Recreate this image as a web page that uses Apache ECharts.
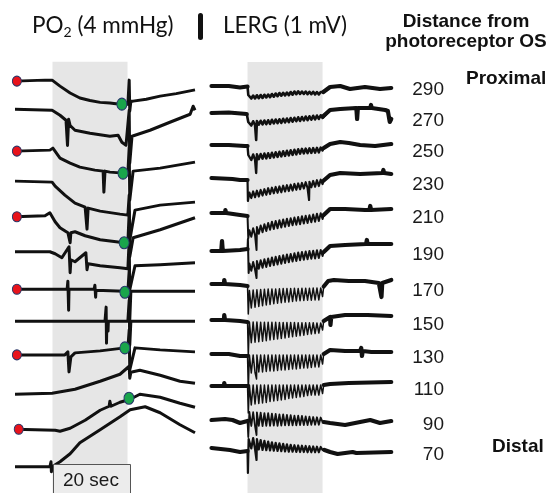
<!DOCTYPE html>
<html><head><meta charset="utf-8">
<script src="https://cdn.jsdelivr.net/npm/echarts@6/dist/echarts.min.js"></script>
<style>html,body{margin:0;padding:0;background:#fff}#c{width:550px;height:493px}</style>
</head><body><div id="c"></div>
<script>
// ---------- data ----------
const distances = ['290','270','250','230','210','190','170','150','130','110','90','70'];
const lightOn = 10, lightOff = 30; // seconds
// PO2 baselines (mmHg, stacked offsets) and traces (t [s], PO2 change [mmHg])
const po2Baseline = [65.9, 61.4, 54.7, 49.9, 44.2, 38.6, 32.6, 27.5, 22.1, 15.8, 10.2, 4.2];
const po2Traces = [
 [[0,0],[8,0.16],[9.9,0.16],[12,-0.8],[14.7,-1.9],[17.3,-2.7],[20,-3.1],[22.7,-3.4],[25.3,-3.5],[28,-3.7],[30.1,-3.7],[30.45,0.16],[30.6,-4.8],[30.9,-3.2],[31.5,-3.2],[35,-2.9],[38.7,-2.4],[43,-2.0],[48,-1.4]],
 [[0,0],[9.9,-0.16],[12,-0.96],[13.6,-1.76],[14.0,-5.8],[14.3,-1.6],[14.7,-2.6],[16,-3.36],[20,-3.84],[25.3,-4.32],[27.5,-4.16],[28.5,-5.28],[29.6,-5.76],[30.45,-0.16],[30.6,-8.64],[31.2,-4.32],[36,-3.36],[41.3,-2.08],[46.7,-0.8],[47.5,0.48],[48,-0.16]],
 [[0,0],[9.3,0.16],[10.1,0.48],[12,-1.12],[14.7,-1.92],[17.3,-2.56],[21.3,-3.04],[23.5,-3.2],[23.7,-6.56],[24,-3.2],[25.3,-3.36],[28.8,-3.52],[30.1,-3.52],[30.45,0.64],[30.6,-7.84],[31.5,-3.2],[38.7,-2.72],[48,-1.76]],
 [[0,0],[9.9,-0.16],[10.7,-0.8],[13.3,-2.24],[16,-3.52],[18.7,-4.16],[19.2,-7.68],[19.5,-4.32],[22.7,-4.8],[28,-5.28],[30.1,-5.44],[30.45,-2.24],[30.6,-9.44],[32,-4.64],[38.7,-3.84],[48,-3.36]],
 [[0,0],[8,0.16],[9.3,0.64],[10.7,-0.8],[12,-1.76],[14.1,-2.56],[14.7,-4.16],[14.9,-2.56],[16,-2.4],[18.7,-3.04],[22.7,-3.68],[29.1,-4.16],[30.1,-4.16],[30.45,0.8],[30.6,-6.4],[31.5,-3.36],[38.7,-2.08],[48,-0.16]],
 [[0,0],[9.3,0],[10.7,-0.32],[12.5,-0.96],[14.4,0.8],[14.7,-3.36],[14.9,-1.28],[16,-1.6],[18.9,-0.16],[19.2,-2.88],[19.5,-1.92],[22.7,-2.24],[28,-2.56],[30.1,-2.72],[30.45,1.92],[30.6,-6.08],[32,-2.24],[38.7,-2.08],[48,-1.76]],
 [[0,0],[9.9,0],[13.9,0],[14.1,1.28],[14.3,-3.36],[14.4,0],[21.1,0],[21.3,0.64],[21.5,-1.28],[21.6,-0.16],[29.1,-0.32],[30.1,-0.32],[30.45,3.04],[30.6,-4.96],[30.9,-0.32],[48,-0.32]],
 [[0,0],[24,0],[24.3,2.24],[24.4,-3.52],[24.5,0],[24.8,-1.6],[24.9,0],[30.1,0],[30.45,3.36],[30.6,-3.84],[30.9,0],[48,0]],
 [[0,0],[13.3,0],[14.1,0.48],[14.4,-2.72],[14.9,-0.32],[16,0.32],[22.7,0.64],[29.3,1.12],[30.1,1.12],[30.45,4.0],[30.6,-2.4],[32,1.12],[38.7,0.8],[48,0.48]],
 [[0,0],[9.9,0.16],[16,0.8],[22.7,2.08],[28,3.2],[30.45,4.48],[30.6,2.56],[30.9,3.52],[33.3,3.84],[38.7,3.04],[44,2.08],[48,1.76]],
 [[0,0],[10.7,-0.16],[12,-0.32],[14.7,0.16],[18.7,1.44],[22.7,3.04],[25.1,3.68],[25.3,4.48],[25.6,3.68],[28,4.32],[30.7,4.8],[33.3,5.6],[38.7,5.12],[44,4.16],[48,3.52]],
 [[0,0],[9.3,0],[9.6,0.8],[9.7,-0.8],[9.9,0],[12,0.8],[14.7,2.08],[17.3,3.84],[22.7,5.92],[28,8],[30.7,9.12],[34.7,9.6],[38.7,8.64],[44,6.72],[48,5.44]]
];
// markers on PO2 traces: red = start, green = end of light response
const redDotTrace = [0, 2, 4, 6, 8, 10];
const redDotTime = [0.5, 0.5, 0.5, 0.5, 0.5, 1.0];
const greenDotTrace = [0, 2, 4, 6, 8, 10];
const greenDotTime = [28.5, 28.8, 29.1, 29.3, 29.3, 30.4];
const greenDotValue = [-3.68, -3.52, -4.16, -0.48, 1.12, 4.96];

// LERG baselines (mV offsets) and trace parts (t [s], mV change)
const lergBaseline = [16.28, 15.20, 13.92, 12.60, 11.20, 9.68, 8.36, 6.92, 5.56, 4.28, 2.88, 1.76];
const distanceLabelLevel = [16.12, 14.88, 13.64, 12.32, 11.0, 9.52, 8.08, 6.72, 5.40, 4.12, 2.72, 1.52];
const lergPre = [
 [[0.4,0],[5,0],[8,-0.06],[10,-0.02],[10.2,-0.36]],
 [[0.4,0],[5,0.02],[9.8,-0.04],[10.2,-0.36]],
 [[0.4,0],[5,0],[9.3,-0.04],[10,-0.04],[10.2,-0.4]],
 [[0.4,0],[6,-0.04],[8,-0.08],[10,-0.08],[10.1,-0.92],[10.3,-0.84]],
 [[0.4,0],[4,0],[4.1,0.12],[4.3,0],[8,-0.08],[10,-0.12],[10.2,-1.0]],
 [[0.4,0],[3,0],[3.2,0.4],[3.4,0],[8,0.04],[10,0.08],[10.1,0.48],[10.3,-0.88]],
 [[0.4,0],[3.7,0],[3.8,0.16],[4,0],[8,-0.04],[10,-0.08],[10.2,-1.2]],
 [[0.4,0],[3.7,0],[3.8,0.2],[4,0],[8,-0.04],[10,-0.08],[10.2,-1.4]],
 [[0.4,0],[5,0],[8,-0.08],[10,-0.08],[10.2,-1.4]],
 [[0.4,0],[3.7,0],[3.8,0.12],[4,0],[8,0],[10,0],[10.2,-1.08]],
 [[0.4,0.04],[4,0.08],[6,0.04],[8,-0.08],[10,0],[10.2,-0.64]],
 [[0.4,0.04],[5.3,-0.04],[8,-0.12],[10,-0.08],[10.1,-0.96],[10.3,0.4]]
];
const flickerTimes = [10.5,11,11.5,12,12.5,13,13.5,14,14.5,15,15.5,16,16.5,17,17.5,18,18.5,19,19.5,20,
                      20.5,21,21.5,22,22.5,23,23.5,24,24.5,25,25.5,26,26.5,27,27.5,28,28.5,29,29.5,30];
const lergFlicker = [
 [-0.38,-0.50,-0.38,-0.50,-0.37,-0.49,-0.36,-0.48,-0.35,-0.46, -0.34,-0.45,-0.32,-0.43,-0.30,-0.41,-0.28,-0.39,-0.27,-0.38,
  -0.26,-0.37,-0.24,-0.35,-0.22,-0.33,-0.21,-0.32,-0.22,-0.32, -0.22,-0.33,-0.23,-0.33,-0.23,-0.34,-0.24,-0.34,-0.24,-0.32],
 [-0.34,-0.50,-0.33,-0.48,-0.32,-0.47,-0.31,-0.46,-0.30,-0.45, -0.29,-0.44,-0.27,-0.42,-0.26,-0.41,-0.25,-0.40,-0.23,-0.38,
  -0.22,-0.37,-0.20,-0.35,-0.19,-0.33,-0.17,-0.32,-0.16,-0.30, -0.14,-0.29,-0.13,-0.27,-0.11,-0.26,-0.10,-0.24,-0.09,-0.20],
 [-0.40,-0.60,-0.38,-0.58,-0.37,-0.57,-0.36,-0.55,-0.34,-0.54, -0.33,-0.52,-0.31,-0.50,-0.29,-0.48,-0.27,-0.46,-0.25,-0.44,
  -0.23,-0.42,-0.21,-0.40,-0.19,-0.38,-0.17,-0.35,-0.15,-0.34, -0.14,-0.33,-0.13,-0.32,-0.12,-0.31,-0.11,-0.30,-0.10,-0.22],
 [-0.58,-0.80,-0.54,-0.77,-0.51,-0.74,-0.48,-0.70,-0.45,-0.67, -0.41,-0.64,-0.39,-0.61,-0.36,-0.59,-0.34,-0.57,-0.31,-0.54,
  -0.29,-0.52,-0.27,-0.50,-0.24,-0.47,-0.22,-0.45,-0.20,-0.42, -0.17,-0.40,-0.15,-0.37,-0.12,-0.35,-0.09,-0.32,-0.07,-0.24],
 [-0.69,-0.95,-0.61,-0.88,-0.56,-0.83,-0.50,-0.77,-0.45,-0.72, -0.40,-0.67,-0.35,-0.64,-0.32,-0.61,-0.29,-0.58,-0.26,-0.55,
  -0.23,-0.52,-0.21,-0.49,-0.18,-0.47,-0.16,-0.45,-0.13,-0.42, -0.11,-0.40,-0.09,-0.37,-0.06,-0.35,-0.03,-0.32,-0.01,-0.24],
 [-0.50,-0.79,-0.44,-0.74,-0.40,-0.71,-0.37,-0.67,-0.33,-0.64, -0.30,-0.60,-0.26,-0.57,-0.23,-0.54,-0.20,-0.51,-0.17,-0.48,
  -0.14,-0.45,-0.12,-0.42,-0.09,-0.40,-0.06,-0.37,-0.04,-0.35, -0.02,-0.33,0.00,-0.31,0.01,-0.30,0.03,-0.28,0.04,-0.20],
 [-0.26,-0.96,-0.24,-0.93,-0.23,-0.90,-0.22,-0.87,-0.21,-0.84, -0.20,-0.82,-0.20,-0.79,-0.20,-0.77,-0.19,-0.75,-0.18,-0.73,
  -0.18,-0.72,-0.18,-0.70,-0.17,-0.68,-0.18,-0.67,-0.17,-0.66, -0.17,-0.65,-0.17,-0.65,-0.16,-0.64,-0.16,-0.64,-0.16,-0.50],
 [-0.08,-0.91,-0.08,-0.89,-0.08,-0.87,-0.09,-0.85,-0.09,-0.83, -0.09,-0.80,-0.09,-0.78,-0.09,-0.76,-0.10,-0.74,-0.10,-0.72,
  -0.10,-0.69,-0.10,-0.67,-0.10,-0.65,-0.11,-0.63,-0.11,-0.61, -0.11,-0.58,-0.11,-0.56,-0.11,-0.54,-0.12,-0.52,-0.12,-0.40],
 [-0.04,-0.76,-0.04,-0.74,-0.04,-0.72,-0.04,-0.72,-0.04,-0.70, -0.04,-0.68,-0.04,-0.68,-0.04,-0.66,-0.04,-0.64,-0.04,-0.64,
  -0.04,-0.62,-0.04,-0.60,-0.04,-0.60,-0.04,-0.58,-0.04,-0.56, -0.04,-0.56,-0.04,-0.54,-0.04,-0.52,-0.04,-0.52,-0.04,-0.40],
 [0.04,-0.76,0.04,-0.72,0.04,-0.70,0.04,-0.68,0.04,-0.66, 0.04,-0.62,0.04,-0.60,0.04,-0.58,0.04,-0.56,0.04,-0.54,
  0.04,-0.50,0.04,-0.48,0.04,-0.46,0.04,-0.44,0.04,-0.42, 0.04,-0.38,0.04,-0.36,0.04,-0.36,0.04,-0.36,0.04,-0.30],
 [0.36,-0.20,0.35,-0.20,0.34,-0.19,0.33,-0.20,0.31,-0.19, 0.31,-0.19,0.29,-0.18,0.28,-0.19,0.26,-0.18,0.26,-0.17,
  0.24,-0.17,0.23,-0.17,0.21,-0.17,0.21,-0.16,0.20,-0.16, 0.18,-0.16,0.17,-0.15,0.16,-0.15,0.15,-0.15,0.14,-0.04],
 [0.46,0.02,0.44,0.00,0.40,-0.02,0.36,-0.04,0.33,-0.05, 0.30,-0.06,0.27,-0.07,0.25,-0.08,0.23,-0.09,0.21,-0.10,
  0.19,-0.11,0.17,-0.11,0.15,-0.12,0.14,-0.12,0.13,-0.12, 0.12,-0.13,0.11,-0.13,0.10,-0.13,0.09,-0.13,0.08,-0.04]
];
const flickerWidth = [2.6, 2.6, 2.4, 2.2, 2.0, 2.0, 1.5, 1.5, 1.5, 1.5, 1.8, 2.2];
const lergPost = [
 [[30.2,-0.24],[32,-0.04],[34.7,0],[37.3,-0.12],[41.3,-0.04],[45.3,-0.12],[48.3,-0.08]],
 [[30.2,-0.12],[32,0.12],[34.7,0.16],[39,0.2],[39.2,-0.24],[39.4,0.2],[42.7,0.2],[42.9,0.32],[43.1,0.2],[46.7,0.12],[47.4,0.08],[47.9,-0.36],[48.3,-0.24]],
 [[30.3,-0.12],[32,0.04],[34.7,0.12],[37,0.08],[40,0],[44,-0.04],[48.3,0.04]],
 [[30.3,-0.1],[32,0.12],[34.7,0.2],[40,0.16],[46,0.2],[46.2,0.32],[46.4,0.2],[48.3,0.16]],
 [[30.3,-0.08],[32,0.16],[36,0.16],[41.3,0.12],[42.5,0.12],[42.7,0.28],[42.9,0.12],[48.3,0.16]],
 [[30.3,-0.04],[32,0.2],[36,0.24],[41.6,0.28],[41.8,0.44],[42,0.28],[48.3,0.28]],
 [[30.3,-0.1],[31.5,0.12],[33,0.16],[37,0.12],[41.3,0.12],[45,0.04],[45.5,0.04],[45.7,-0.52],[45.9,0.04],[48.3,0.16]],
 [[30.3,-0.04],[32,0.12],[32.1,-0.2],[32.3,0.12],[36,0.2],[42,0.2],[48.3,0.16]],
 [[30.3,0],[32,0.16],[36,0.12],[40,0.12],[40.3,0.24],[40.5,-0.08],[40.7,0.12],[43,0.08],[48.3,0.08]],
 [[30.3,0.04],[32,0.08],[37,0.12],[48.3,0.16]],
 [[30.3,-0.04],[32,-0.08],[36,-0.16],[40,-0.04],[42.7,0.04],[45.3,-0.08],[48.3,0]],
 [[30.5,-0.04],[32,-0.12],[34,-0.2],[36,-0.16],[38,-0.12],[39,-0.16],[48.3,-0.12]]
];
const lergSpikes = [[], [[12.3,-1.08]], [[12.3,-1.12]], [[26.4,-0.88]], [[12.4,-1.48]], [[12.4,-1.08]],
  [[12.4,-0.9]], [[12.4,-0.9]], [[12.4,-1.0]], [[12.4,-0.8]], [[12.4,-0.56]], [[12.4,-0.44]]];

// ---------- chart ----------
const chart = echarts.init(document.getElementById('c'));
const FONT = '"Liberation Sans", Arial, sans-serif';
const series = [];
const lineBase = {type:'line', symbol:'none', silent:true, animation:false, z:3};

series.push({type:'line', xAxisIndex:0, yAxisIndex:0, data:[], silent:true, z:1,
  markArea:{silent:true, itemStyle:{color:'#e6e6e6'}, data:[[{xAxis:lightOn, yAxis:69},{xAxis:lightOff, yAxis:0}]]}});
series.push({type:'line', xAxisIndex:1, yAxisIndex:1, data:[], silent:true, z:1,
  markArea:{silent:true, itemStyle:{color:'#e6e6e6'}, data:[[{xAxis:lightOn, yAxis:17.24},{xAxis:lightOff, yAxis:0}]]}});

po2Traces.forEach((tr, i) => {
  series.push(Object.assign({}, lineBase, {xAxisIndex:0, yAxisIndex:0,
    lineStyle:{color:'#111', width:3, join:'round'},
    data: tr.map(p => [p[0], p[1] + po2Baseline[i]])}));
});

lergBaseline.forEach((b, i) => {
  const pts = [].concat(lergPre[i], flickerTimes.map((t, k) => [t, lergFlicker[i][k]]), lergPost[i], lergSpikes[i])
    .sort((a, c) => a[0] - c[0]);
  series.push(Object.assign({}, lineBase, {xAxisIndex:1, yAxisIndex:1,
    lineStyle:{color:'#111', width:flickerWidth[i], join:'round'},
    data: pts.map(p => [p[0], p[1] + b])}));
  const thick = lergPre[i].filter(p => p[0] <= lightOn).map(p => [p[0], p[1] + b])
    .concat([null], lergPost[i].map(p => [p[0], p[1] + b]));
  series.push(Object.assign({}, lineBase, {xAxisIndex:1, yAxisIndex:1,
    lineStyle:{color:'#111', width:4.2, join:'round', cap:'round'}, connectNulls:false, data: thick}));
});

series.push({type:'scatter', xAxisIndex:0, yAxisIndex:0, z:5, silent:true, animation:false,
  symbolSize:[9,10], itemStyle:{color:'#e8131b', borderColor:'#2a3566', borderWidth:1, opacity:1},
  data: redDotTrace.map((ti, k) => [redDotTime[k], po2Baseline[ti]])});
series.push({type:'scatter', xAxisIndex:0, yAxisIndex:0, z:5, silent:true, animation:false,
  symbolSize:[10,12], itemStyle:{color:'#19a54b', borderColor:'#25376a', borderWidth:1, opacity:1},
  data: greenDotTrace.map((ti, k) => [greenDotTime[k], po2Baseline[ti] + greenDotValue[k]])});

chart.setOption({
  animation:false,
  grid:[{left:15, top:3, width:180, height:490}, {left:210, top:3, width:182, height:490}],
  xAxis:[{gridIndex:0, type:'value', min:0, max:48, show:false},
         {gridIndex:1, type:'value', min:0, max:48.5, show:false}],
  yAxis:[{gridIndex:0, type:'value', min:0, max:78.4, show:false},
         {gridIndex:1, type:'value', min:0, max:19.6, show:false},
         {gridIndex:1, type:'value', min:0, max:19.6, position:'right',
          axisLine:{show:false}, axisTick:{show:false}, splitLine:{show:false},
          axisLabel:{customValues: distanceLabelLevel, margin:52, align:'right', color:'#1a1a1a',
            fontSize:19, fontFamily:FONT,
            formatter: v => { const i = distanceLabelLevel.findIndex(b => Math.abs(b - v) < 1e-6); return i >= 0 ? distances[i] : ''; }}}],
  series: series
});

const x10 = chart.convertToPixel({xAxisIndex:0}, lightOn);
const x30 = chart.convertToPixel({xAxisIndex:0}, lightOff + 0.5);
chart.setOption({graphic:[
  {type:'text', x:32, y:26, style:{text:'{a|PO}{s|2}{a| (4 mmHg)}', verticalAlign:'middle', fill:'#111',
     rich:{a:{fontSize:22.5, fontFamily:'Lato', lineHeight:27, verticalAlign:'middle'},
           s:{fontSize:14, fontFamily:'Lato', lineHeight:12, verticalAlign:'bottom'}}}},
  {type:'rect', x:198, y:13, shape:{width:5, height:27, r:2.5}, style:{fill:'#111'}},
  {type:'text', x:223, y:26, style:{text:'LERG (1 mV)', fontSize:22.5, fontFamily:'Lato', fill:'#111', verticalAlign:'middle'}},
  {type:'text', x:466, y:21.5, style:{text:'Distance from', fontSize:19, fontWeight:'bold', fontFamily:FONT, fill:'#111', align:'center', verticalAlign:'middle'}},
  {type:'text', x:466, y:41.5, style:{text:'photoreceptor OS', fontSize:19, fontWeight:'bold', fontFamily:FONT, fill:'#111', align:'center', verticalAlign:'middle'}},
  {type:'text', x:466, y:78.5, style:{text:'Proximal', fontSize:19, fontWeight:'bold', fontFamily:FONT, fill:'#111', verticalAlign:'middle'}},
  {type:'text', x:492, y:446.5, style:{text:'Distal', fontSize:19, fontWeight:'bold', fontFamily:FONT, fill:'#111', verticalAlign:'middle'}},
  {type:'rect', x:Math.round(x10)+0.5, y:464.5, shape:{width:Math.round(x30 - x10), height:40}, style:{fill:'#ececec', stroke:'#555', lineWidth:1}, z:10},
  {type:'text', x:(x10 + x30) / 2, y:481, style:{text:'20 sec', fontSize:19, fontFamily:FONT, fill:'#1a1a1a', align:'center', verticalAlign:'middle'}, z:11}
]});
</script></body></html>
